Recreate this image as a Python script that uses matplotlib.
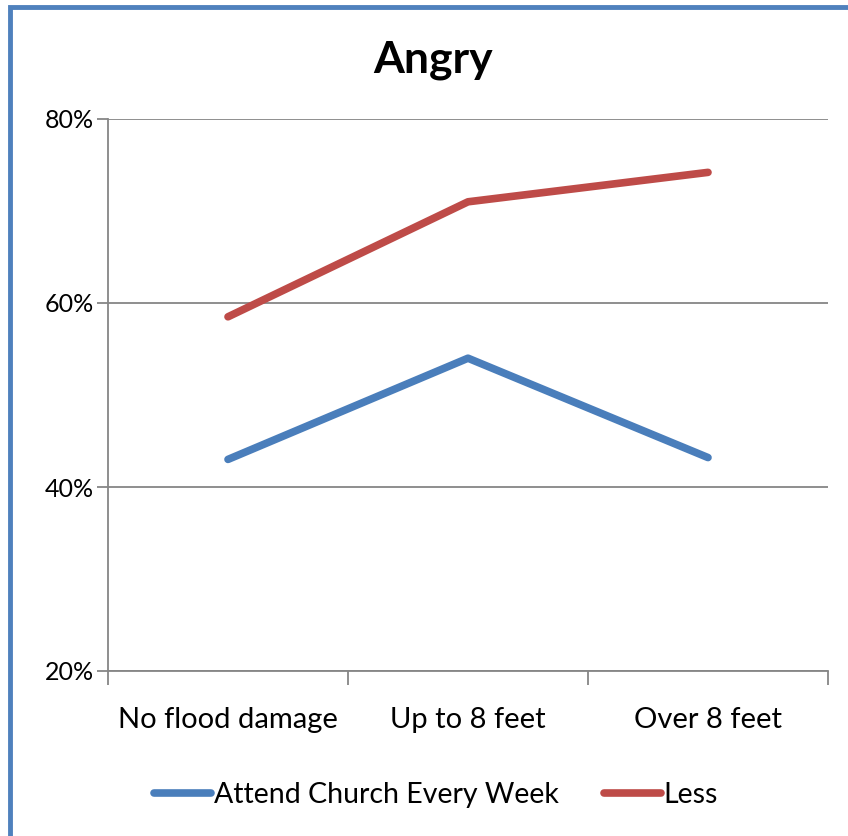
import matplotlib.pyplot as plt
from matplotlib.patches import Rectangle
from matplotlib.ticker import FixedLocator, PercentFormatter

plt.rcParams['font.family'] = ['Lato', 'DejaVu Sans']

categories = ["No flood damage", "Up to 8 feet", "Over 8 feet"]
attend_weekly = [43.0, 54.0, 43.2]
less = [58.5, 71.0, 74.2]
series_names = ["Attend Church Every Week", "Less"]
yticks = [20, 40, 60, 80]

BLUE = "#4A7EBB"
RED = "#BE4B48"
GRID = "#868686"

fig = plt.figure(figsize=(8.48, 8.36), dpi=100)

# chart frame (cropped on the right and bottom in the original)
fig.patches.append(Rectangle((10 / 848, -0.05), 1.1, 1 - 7 / 836 + 0.05,
                             transform=fig.transFigure, fill=False,
                             edgecolor="#4F81BD", linewidth=3.5))

ax = fig.add_axes([108 / 848, 1 - 671 / 836, 720 / 848, 552 / 836])

x = range(len(categories))
l1, = ax.plot(x, attend_weekly, color=BLUE, lw=5.5, solid_capstyle="round",
              solid_joinstyle="round")
l2, = ax.plot(x, less, color=RED, lw=5.5, solid_capstyle="round",
              solid_joinstyle="round")

ax.set_xlim(-0.5, 2.5)
ax.set_ylim(20, 80)
ax.yaxis.set_major_locator(FixedLocator(yticks))
ax.yaxis.set_major_formatter(PercentFormatter(decimals=0))
ax.grid(axis="y", color=GRID, lw=1.3)
ax.set_axisbelow(True)

# category labels centred, tick marks on boundaries
ax.set_xticks([-0.5, 0.5, 1.5, 2.5])
ax.set_xticklabels([])
ax.set_xticks(list(x), minor=True)
ax.set_xticklabels(categories, minor=True, fontsize=21)
ax.tick_params(axis="x", which="minor", length=0, pad=26)
ax.tick_params(axis="x", which="major", length=10, width=1.3, color=GRID)
ax.tick_params(axis="y", length=8, width=1.3, color=GRID, labelsize=18, pad=2)

for s in ["top", "right"]:
    ax.spines[s].set_visible(False)
for s in ["left", "bottom"]:
    ax.spines[s].set_color(GRID)
    ax.spines[s].set_linewidth(1.3)

fig.text(433 / 848, 1 - 60 / 836, "Angry", fontsize=32, fontweight="bold",
         ha="center", va="center")

fig.legend([l1, l2], series_names, loc="center", ncol=2,
           bbox_to_anchor=(436 / 848, 1 - 795 / 836), frameon=False,
           fontsize=20.5, handlelength=2.0, handletextpad=0.1, columnspacing=1.6)

fig.savefig("out.png", dpi=100)
